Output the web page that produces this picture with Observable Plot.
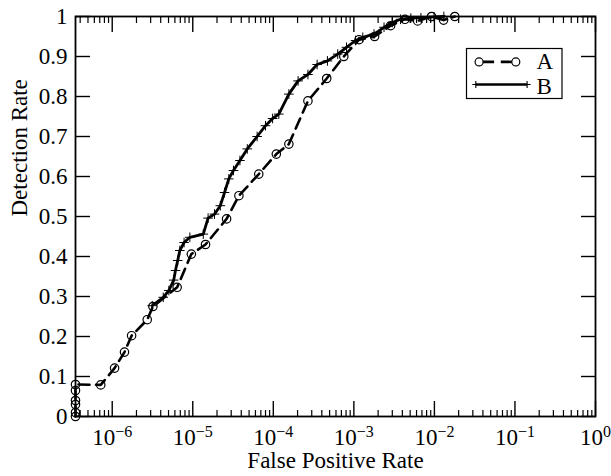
<!DOCTYPE html>
<html><head><meta charset="utf-8">
<script src="https://cdn.jsdelivr.net/npm/d3@7"></script>
<script src="https://cdn.jsdelivr.net/npm/@observablehq/plot@0.6"></script>
<style>html,body{margin:0;padding:0;background:#fff} svg{display:block}</style>
</head><body><div id="chart"></div>
<script>
// ---- data ----
const xMin = 3.5e-7; // left edge of the log axis (FPR = 0 plotted here)
const seriesNames = ["A", "B"];
const fprA = [xMin, xMin, xMin, xMin, xMin, xMin, 7.2e-7, 1.07e-6, 1.42e-6, 1.74e-6, 2.72e-6, 3.2e-6,
  6.4e-6, 9.6e-6, 1.44e-5, 2.63e-5, 3.74e-5, 6.6e-5, 1.09e-4, 1.56e-4, 2.69e-4, 4.6e-4, 7.5e-4,
  1.16e-3, 1.81e-3, 2.86e-3, 4.3e-3, 6.2e-3, 9.2e-3, 1.3e-2, 1.79e-2];
const detA = [0, 0.01, 0.03, 0.04, 0.065, 0.08, 0.079, 0.121, 0.161, 0.202, 0.242, 0.275,
  0.323, 0.406, 0.430, 0.494, 0.552, 0.606, 0.656, 0.681, 0.789, 0.845, 0.900,
  0.942, 0.950, 0.977, 0.993, 0.989, 1.0, 0.991, 1.0];
const fprB = [3.14e-6, 4.3e-6, 5.05e-6, 5.8e-6, 6.1e-6, 6.5e-6, 6.9e-6, 7.8e-6, 9.2e-6, 1.35e-5,
  1.55e-5, 1.86e-5, 2.2e-5, 2.48e-5, 2.8e-5, 3.2e-5, 3.85e-5, 4.75e-5, 6.3e-5, 8.0e-5, 9.8e-5,
  1.17e-4, 1.56e-4, 2.03e-4, 2.69e-4, 3.5e-4, 4.7e-4, 6.3e-4, 8.1e-4, 1.05e-3, 1.29e-3, 1.78e-3,
  2.37e-3, 3.0e-3, 3.8e-3, 5.1e-3, 6.8e-3, 9.9e-3, 1.31e-2];
const detB = [0.277, 0.298, 0.315, 0.341, 0.365, 0.39, 0.415, 0.435, 0.448, 0.456,
  0.496, 0.506, 0.527, 0.56, 0.594, 0.615, 0.640, 0.669, 0.700, 0.727, 0.745,
  0.756, 0.806, 0.839, 0.855, 0.880, 0.889, 0.906, 0.923, 0.940, 0.948, 0.956,
  0.973, 0.985, 0.993, 0.996, 0.997, 0.999, 1.0];
const xMajorTicks = [1e-6, 1e-5, 1e-4, 1e-3, 1e-2, 1e-1, 1];
const yTicks = [0, 0.1, 0.2, 0.3, 0.4, 0.5, 0.6, 0.7, 0.8, 0.9, 1];
const xLabel = "False Positive Rate";
const yLabel = "Detection Rate";

// ---- derived tables ----
const dataA = fprA.map((f, i) => ({fpr: f, det: detA[i]}));
const dataB = fprB.map((f, i) => ({fpr: f, det: detB[i]}));
const xMinorTicks = [];
for (let e = -7; e <= -1; e++) for (let k = 2; k <= 9; k++) {
  const v = k * Math.pow(10, e);
  if (v > xMin && v < 1) xMinorTicks.push(v);
}

const FONT = "Liberation Serif, Times New Roman, serif";
const FS = 23;
const dashA = "11,6.5";

function legendMark(index, scales, values, dims) {
  const right = dims.width - dims.marginRight;
  const top = dims.marginTop;
  const bx = right - 128.5, by = top + 32.5, bw = 95.5, bh = 50;
  const g = d3.create("svg:g").attr("font-family", FONT).attr("font-size", FS)
    .attr("fill", "black").attr("text-anchor", "start");
  g.append("rect").attr("x", bx).attr("y", by).attr("width", bw).attr("height", bh)
    .attr("fill", "white").attr("stroke", "black").attr("stroke-width", 1.2);
  // A row
  const ya = by + 13.4;
  g.append("line").attr("x1", bx + 16.6).attr("x2", bx + 49.3).attr("y1", ya).attr("y2", ya)
    .attr("stroke", "black").attr("stroke-width", 2.6).attr("stroke-dasharray", "11,6.7");
  for (const cx of [bx + 12.6, bx + 49.3])
    g.append("circle").attr("cx", cx).attr("cy", ya).attr("r", 4).attr("fill", "none")
      .attr("stroke", "black").attr("stroke-width", 1.2);
  g.append("text").attr("x", bx + 70).attr("y", by + 20.7).text(seriesNames[0]);
  // B row
  const yb = by + 36;
  g.append("line").attr("x1", bx + 9.3).attr("x2", bx + 60.6).attr("y1", yb).attr("y2", yb)
    .attr("stroke", "black").attr("stroke-width", 2.6);
  for (const cx of [bx + 9.3, bx + 60.6])
    g.append("path").attr("d", `M${cx},${yb - 3.5}V${yb + 3.5}M${cx - 3.5},${yb}H${cx + 3.5}`)
      .attr("stroke", "black").attr("stroke-width", 1.1);
  g.append("text").attr("x", bx + 70).attr("y", by + 45).text(seriesNames[1]);
  return g.node();
}

const chart = Plot.plot({
  width: 611,
  height: 476,
  marginLeft: 75,
  marginRight: 16,
  marginTop: 16,
  marginBottom: 60,
  style: {fontFamily: FONT, fontSize: FS + "px", background: "white", color: "black"},
  x: {type: "log", domain: [xMin, 1]},
  y: {domain: [0, 1]},
  marks: [
    Plot.line(dataA, {x: "fpr", y: "det", stroke: "black", strokeWidth: 2.6, strokeDasharray: dashA}),
    Plot.dot(dataA, {x: "fpr", y: "det", r: 4.2, stroke: "black", strokeWidth: 1.2, fill: "none"}),
    Plot.line(dataB, {x: "fpr", y: "det", stroke: "black", strokeWidth: 2.8}),
    Plot.dot(dataB, {x: "fpr", y: "det", symbol: "plus", r: 3.2, stroke: "black", strokeWidth: 1}),
    Plot.frame({stroke: "black", strokeWidth: 1.8}),
    // inward tick marks
    Plot.axisX(xMajorTicks, {anchor: "bottom", tickSize: -15, fill: "none", strokeWidth: 1.4, label: null}),
    Plot.axisX(xMajorTicks, {anchor: "top", tickSize: -15, fill: "none", strokeWidth: 1.4, label: null}),
    Plot.axisX(xMinorTicks, {anchor: "bottom", tickSize: -6, fill: "none", strokeWidth: 1.2, label: null}),
    Plot.axisX(xMinorTicks, {anchor: "top", tickSize: -6, fill: "none", strokeWidth: 1.2, label: null}),
    Plot.axisY(yTicks, {anchor: "left", tickSize: -15, fill: "none", strokeWidth: 1.4, label: null}),
    Plot.axisY(yTicks, {anchor: "right", tickSize: -15, fill: "none", strokeWidth: 1.4, label: null}),
    // tick labels
    Plot.axisX(xMajorTicks, {anchor: "bottom", tickSize: 0, tickPadding: 12.5, fontSize: FS,
      tickFormat: d => `10^${Math.round(Math.log10(d))}`, label: null}),
    Plot.axisY(yTicks, {anchor: "left", tickSize: 0, tickPadding: 8, fontSize: FS,
      tickFormat: d => String(d), label: null}),
    // axis titles
    Plot.text([xLabel], {frameAnchor: "bottom", dy: 51.5, fontSize: FS}),
    Plot.text([yLabel], {frameAnchor: "left", rotate: -90, dx: -56, fontSize: FS}),
    legendMark
  ]
});

// superscript exponents on the x tick labels
chart.querySelectorAll('g[aria-label="x-axis tick label"] text').forEach(t => {
  const s = t.textContent;
  const [b, e] = s.split("^");
  if (e === undefined) return;
  t.textContent = "";
  const ns = "http://www.w3.org/2000/svg";
  const t1 = document.createElementNS(ns, "tspan"); t1.textContent = b;
  const t2 = document.createElementNS(ns, "tspan");
  t2.setAttribute("dy", "-8"); t2.setAttribute("font-size", "16");
  t2.textContent = e.replace("-", "\u2212");
  t.appendChild(t1); t.appendChild(t2);
});

document.getElementById("chart").appendChild(chart);
</script>
</body></html>
